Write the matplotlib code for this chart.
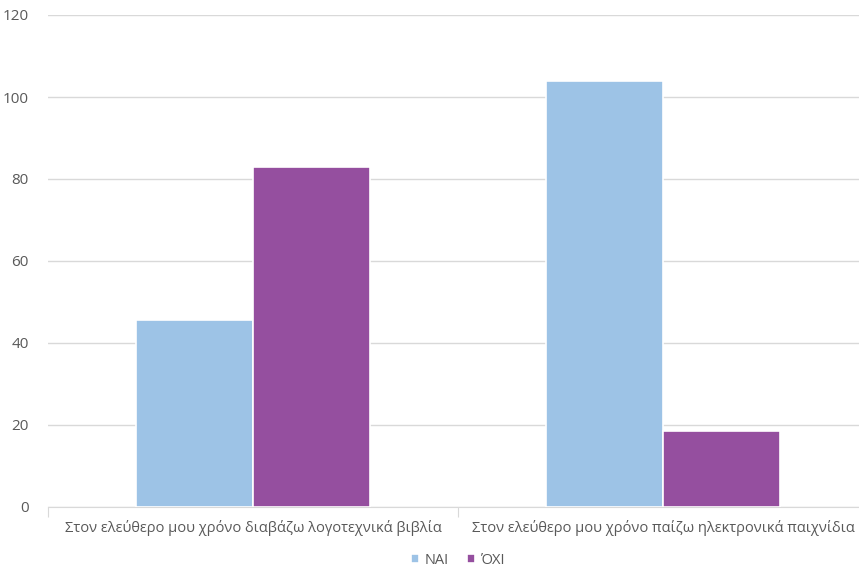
import matplotlib
matplotlib.use("Agg")
import matplotlib.pyplot as plt
import numpy as np

categories = ["Στον ελεύθερο μου χρόνο διαβάζω λογοτεχνικά βιβλία",
              "Στον ελεύθερο μου χρόνο παίζω ηλεκτρονικά παιχνίδια"]
series_names = ["ΝΑΙ", "ΌΧΙ"]
nai = [45.5, 104]
oxi = [83, 18.5]
yticks = [0, 20, 40, 60, 80, 100, 120]

plt.rcParams['font.family'] = ['Open Sans', 'DejaVu Sans']
fig = plt.figure(figsize=(8.59, 5.74), dpi=100)
ax = fig.add_axes([48/859, 67/574, 820/859, 492/574])

x = np.arange(len(categories))
w = 0.285
ax.bar(x - w/2, nai, width=w, color="#9DC3E6", edgecolor="white", linewidth=1.2, label=series_names[0], zorder=3)
ax.bar(x + w/2, oxi, width=w, color="#954F9F", edgecolor="white", linewidth=1.2, label=series_names[1], zorder=3)

ax.set_xlim(-0.5, 1.5)
ax.set_ylim(0, 120)
ax.set_yticks(yticks)
ax.set_yticklabels([str(v) for v in yticks], fontsize=11, color="#595959")
ax.grid(axis="y", color="#D9D9D9", linewidth=1, zorder=0)
for s in ["top", "right", "left"]:
    ax.spines[s].set_visible(False)
ax.spines["bottom"].set_color("#D9D9D9")
ax.tick_params(axis="y", length=0, pad=14)

ax.set_xticks([-0.5, 0.5, 1.5], minor=False)
ax.set_xticklabels([])
ax.tick_params(axis="x", which="major", length=7, color="#D9D9D9")
ax.set_xticks(x, minor=True)
ax.set_xticklabels(categories, minor=True, fontsize=10.5, color="#595959")
ax.tick_params(axis="x", which="minor", length=0, pad=9)

ax.legend(loc="upper center", bbox_to_anchor=(0.5, -0.072), ncol=2, frameon=False,
          fontsize=10.5, labelcolor="#595959", handlelength=0.55, handleheight=0.55,
          handletextpad=0.4, columnspacing=1.2, borderpad=0.2)

fig.savefig("out.png", dpi=100)
